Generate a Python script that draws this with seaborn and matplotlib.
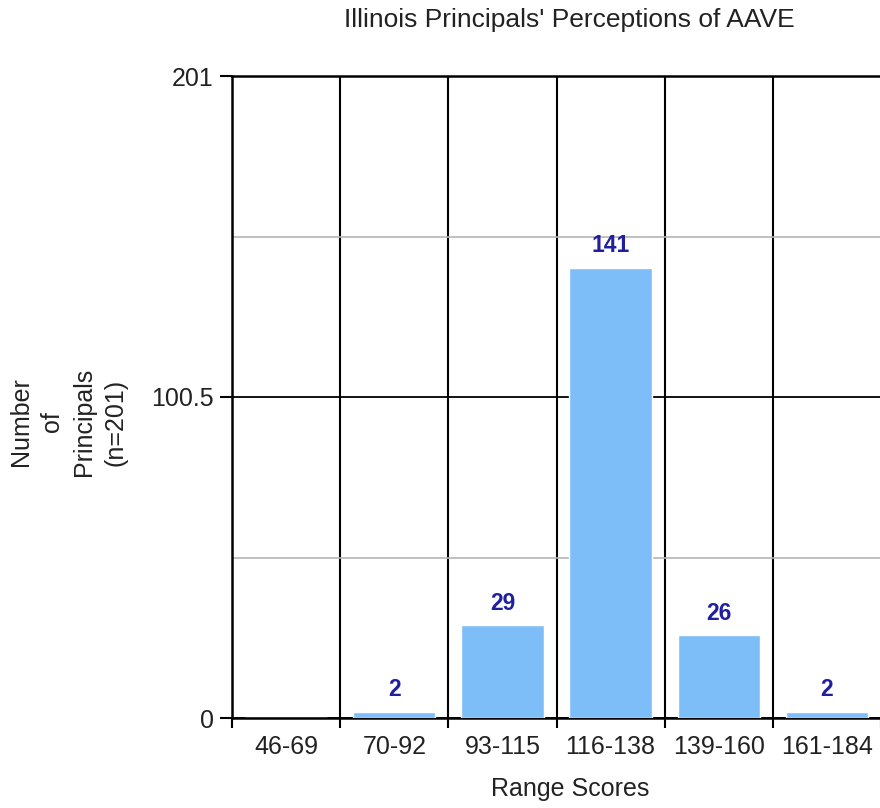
import matplotlib
matplotlib.use("Agg")
import matplotlib.pyplot as plt
import seaborn as sns
import pandas as pd
import numpy as np
from matplotlib.ticker import FixedLocator

categories = ["46-69", "70-92", "93-115", "116-138", "139-160", "161-184"]
counts = [0, 2, 29, 141, 26, 2]
y_ticks = [0, 100.5, 201]
y_tick_labels = ["0", "100.5", "201"]
y_minor = [50.25, 150.75]
title = "Illinois Principals' Perceptions of AAVE"
x_label = "Range Scores"
y_label = "Number\nof\nPrincipals\n(n=201)"

sns.set_theme(style="white")
plt.rcParams['font.family'] = ['Liberation Sans', 'DejaVu Sans']

W, H = 880, 808
fig = plt.figure(figsize=(W / 100, H / 100), dpi=100)
left, right, top, bottom = 232, 881, 76, 718
ax = fig.add_axes([left / W, 1 - bottom / H, (right - left) / W, (bottom - top) / H])

df = pd.DataFrame({"range": categories, "count": counts})
sns.barplot(data=df, x="range", y="count", color="#7DBEF8", saturation=1,
            width=0.76, ax=ax, zorder=3)

n = len(categories)
ax.set_xlim(-0.5, n - 0.5)
ax.set_ylim(0, max(y_ticks))

txt = '#222222'
fs = 18

# y axis
ax.set_yticks(y_ticks)
ax.set_yticklabels(y_tick_labels)
ax.yaxis.set_minor_locator(FixedLocator(y_minor))
ax.tick_params(axis='y', which='major', left=True, length=9, width=1.5,
               color='black', labelsize=fs, pad=4, labelcolor=txt)
ax.tick_params(axis='y', which='minor', left=False, length=0)

# x axis: boundaries as major ticks, labels on minor ticks at centres
ax.set_xticks(np.arange(n + 1) - 0.5)
ax.set_xticklabels([""] * (n + 1))
ax.set_xticks(np.arange(n), minor=True)
ax.set_xticklabels(categories, minor=True)
ax.tick_params(axis='x', which='major', bottom=True, length=7, width=1.5, color='black')
ax.tick_params(axis='x', which='minor', bottom=False, length=0, labelsize=fs,
               pad=12, labelcolor=txt)

# grid
ax.grid(axis='x', which='major', color='black', lw=1.5, zorder=1)
ax.grid(axis='y', which='major', color='black', lw=1.3, zorder=1)
ax.grid(axis='y', which='minor', color='#b5b5b5', lw=1.2, zorder=1)
ax.set_axisbelow(True)

for side in ['left', 'bottom', 'top']:
    ax.spines[side].set_visible(True)
    ax.spines[side].set_color('black')
    ax.spines[side].set_linewidth(1.8)
ax.spines['right'].set_visible(False)

# labels
ax.set_xlabel("")
ax.set_ylabel("")
fig.text(570 / W, 1 - 789 / H, x_label, ha='center', va='center', fontsize=fs, color=txt)
fig.text(68 / W, 1 - 422 / H, y_label, ha='center', va='center', rotation=90,
         fontsize=fs, color=txt, linespacing=1.4)
fig.text(569 / W, 1 - 20 / H, title, ha='center', va='center', fontsize=19, color=txt)

# bar value labels
bar_labels = [str(c) if c > 0 else "" for c in counts]
ax.bar_label(ax.containers[0], labels=bar_labels, padding=7.5, color='#1f1f9f',
             fontweight='bold', fontsize=16.5)

fig.savefig("out.png", dpi=100, facecolor='white')
